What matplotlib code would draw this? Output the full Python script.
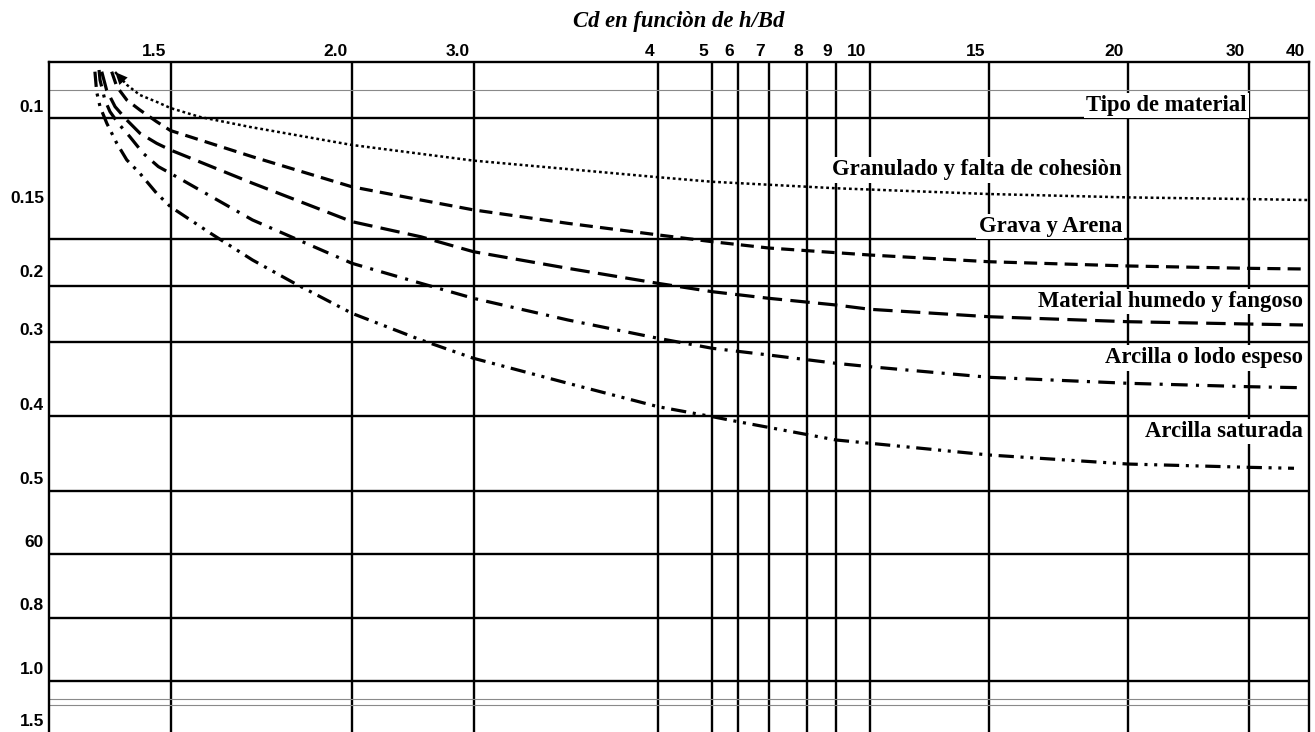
import numpy as np
import matplotlib
matplotlib.use("Agg")
import matplotlib.pyplot as plt
from matplotlib.transforms import offset_copy

# ---- axis values -------------------------------------------------------
x_ticks = [1.5, 2.0, 3.0, 4, 5, 6, 7, 8, 9, 10, 15, 20, 30, 40]
x_tick_labels = ["1.5", "2.0", "3.0", "4", "5", "6", "7", "8", "9", "10",
                 "15", "20", "30", "40"]
y_ticks = [0.1, 0.15, 0.2, 0.3, 0.4, 0.5, 0.6, 0.8, 1.0, 1.5]
y_tick_labels = ["0.1", "0.15", "0.2", "0.3", "0.4", "0.5", "60", "0.8",
                 "1.0", "1.5"]

# ---- Cd curves per material -------------------------------------------
granulado_x = [1.272, 1.321, 1.374, 1.444, 1.5, 1.581, 1.719, 2.0, 3.0, 4.0,
               5.0, 9.0, 15, 20, 30, 40]
granulado_cd = [0.0589, 0.0704, 0.0793, 0.0855, 0.0909, 0.0988, 0.1036,
                0.1111, 0.1176, 0.1245, 0.1264, 0.1291, 0.1315, 0.1329,
                0.1336, 0.1340]

grava_x = [1.258, 1.279, 1.320, 1.374, 1.443, 1.5, 1.726, 2.0, 2.568, 3.0,
           3.512, 4.0, 5, 7, 10, 15, 20, 30, 39.3]
grava_cd = [0.0586, 0.0719, 0.0837, 0.0926, 0.1014, 0.1051, 0.1160, 0.1285,
            0.1340, 0.1381, 0.1437, 0.1485, 0.1534, 0.1601, 0.1675, 0.1746,
            0.1791, 0.1816, 0.1823]

humedo_x = [1.217, 1.237, 1.272, 1.320, 1.374, 1.443, 1.5, 1.726, 2.0, 2.568,
            3.0, 3.512, 4, 5, 7, 9, 10, 15, 20, 30, 39]
humedo_cd = [0.0586, 0.0749, 0.0897, 0.1007, 0.1062, 0.1104, 0.1132, 0.1270,
             0.1430, 0.1493, 0.1640, 0.1816, 0.1975, 0.2106, 0.2223, 0.2341,
             0.2417, 0.2548, 0.2636, 0.2677, 0.2694]

lodo_x = [1.206, 1.210, 1.230, 1.251, 1.285, 1.333, 1.388, 1.450, 1.5, 1.726,
          2.0, 2.568, 3.0, 3.512, 4, 5, 7, 9, 10, 15, 20, 30, 39]
lodo_cd = [0.0571, 0.0660, 0.0837, 0.0941, 0.1021, 0.1077, 0.1146, 0.1201,
           0.1229, 0.1423, 0.1763, 0.1975, 0.2223, 0.2606, 0.2929, 0.3081,
           0.3172, 0.3284, 0.3330, 0.3473, 0.3554, 0.3600, 0.3614]

saturada_x = [1.189, 1.196, 1.210, 1.238, 1.279, 1.320, 1.374, 1.443, 1.5,
              1.610, 1.726, 1.842, 2.0, 2.568, 3.0, 3.512, 4, 5, 6, 9, 10,
              15, 20, 30, 37.5]
saturada_cd = [0.0586, 0.0764, 0.0897, 0.1021, 0.1104, 0.1173, 0.1229, 0.1312,
               0.1368, 0.1478, 0.1728, 0.1975, 0.2488, 0.2959, 0.3216, 0.3554,
               0.3870, 0.4005, 0.4072, 0.4317, 0.4361, 0.4518, 0.4639, 0.4683,
               0.4696]

material_names = ["Tipo de material", "Granulado y falta de cohesiòn",
                  "Grava y Arena", "Material humedo y fangoso",
                  "Arcilla o lodo espeso", "Arcilla saturada"]

# ---- layout of the non-uniform chart grid ------------------------------
X_LIM = (1.0, 40)
Y_LIM = (0.05, 1.5)
x_grid_units = [0, 121.5, 303, 424.5, 609, 663.3, 689, 720, 758, 787, 821,
                940, 1079, 1200, 1260]          # for X_LIM[0] + x_ticks
y_grid_units = [0, 56.3, 176.5, 223.7, 280.3, 354.3, 429, 492.2, 555.5,
                618.8, 670]                     # for Y_LIM[0] + y_ticks
y_label_rise = [11, 40, 13, 12, 11, 12, 12, 12, 11, 11]   # px above line
thin_rules = [0.075, 1.18, 1.24]
label_anchor = [(29.8, 0.089), (19.78, 0.1215), (19.78, 0.1451),
                (39.0, 0.2283), (39.0, 0.3212), (39.0, 0.4206)]

GRID_LW = 1.7


def piecewise(values, units):
    values = np.asarray(values, float)
    units = np.asarray(units, float)

    def forward(v):
        return np.interp(v, values, units)

    def inverse(u):
        return np.interp(u, units, values)

    return forward, inverse


plt.rcParams["lines.scale_dashes"] = False

fig = plt.figure(figsize=(13.15, 7.32), dpi=100, facecolor="white")
ax = fig.add_axes([49 / 1315, 0, 1260 / 1315, 670 / 732])

ax.set_xscale("function",
              functions=piecewise([X_LIM[0]] + x_ticks, x_grid_units))
ax.set_yscale("function",
              functions=piecewise([Y_LIM[0]] + y_ticks, y_grid_units))
ax.set_xlim(*X_LIM)
ax.set_ylim(Y_LIM[1], Y_LIM[0])

ax.set_xticks([])
ax.set_yticks([])
ax.set_xticks([], minor=True)
ax.set_yticks([], minor=True)

for side in ("left", "top", "right"):
    ax.spines[side].set_linewidth(GRID_LW)
ax.spines["bottom"].set_visible(False)

# grid
for xv in x_ticks[:-1]:
    ax.axvline(xv, color="black", lw=GRID_LW, zorder=1)
for yv in y_ticks[:-1]:
    ax.axhline(yv, color="black", lw=GRID_LW, zorder=1)
for yv in thin_rules:
    ax.axhline(yv, color="#8a8a8a", lw=0.8, zorder=1)

# tick labels
tick_font = dict(family="Liberation Sans", weight="bold", fontsize=12.5)
xt = offset_copy(ax.get_xaxis_transform(), fig=fig, x=-4, y=11, units="dots")
for xv, lab in zip(x_ticks, x_tick_labels):
    ax.text(xv, 1.0, lab, transform=xt, ha="right", va="center",
            clip_on=False, **tick_font)
for yv, lab, rise in zip(y_ticks, y_tick_labels, y_label_rise):
    yt = offset_copy(ax.get_yaxis_transform(), fig=fig, x=-5, y=rise,
                     units="dots")
    ax.text(0.0, yv, lab, transform=yt, ha="right", va="center",
            clip_on=False, **tick_font)

fig.text(679 / 1315, 1 - 22 / 732, "Cd en funciòn de h/Bd",
         family="Liberation Serif", style="italic", weight="bold",
         fontsize=16.3, ha="center", va="center")

# curves
curves = [
    (granulado_x, granulado_cd, dict(dashes=(2.0, 2.1), lw=1.8)),
    (grava_x, grava_cd, dict(dashes=(9.4, 5.2), lw=2.3)),
    (humedo_x, humedo_cd, dict(dashes=(14.0, 6.0), lw=2.3)),
    (lodo_x, lodo_cd, dict(dashes=(12.0, 6.0, 2.2, 6.0), lw=2.3)),
    (saturada_x, saturada_cd, dict(dashes=(11.0, 4.8, 2.2, 4.8, 2.2, 4.8),
                                   lw=2.3)),
]
for xs, ys, style in curves:
    ax.plot(xs, ys, color="black", solid_capstyle="butt",
            dash_capstyle="butt", zorder=2, clip_on=False, **style)

ax.annotate("", xy=(granulado_x[0], granulado_cd[0]),
            xytext=(granulado_x[1], granulado_cd[1]),
            arrowprops=dict(arrowstyle="-|>,head_length=0.9,head_width=0.4",
                            color="black", lw=0, shrinkA=0, shrinkB=0),
            zorder=3)

# material labels
for name, (lx, ly) in zip(material_names, label_anchor):
    ax.text(lx, ly, name, ha="right", va="center", family="Liberation Serif",
            weight="bold", fontsize=16.3, zorder=4,
            bbox=dict(facecolor="white", edgecolor="none", pad=1.5))

fig.savefig("out.png", dpi=100, facecolor="white")
